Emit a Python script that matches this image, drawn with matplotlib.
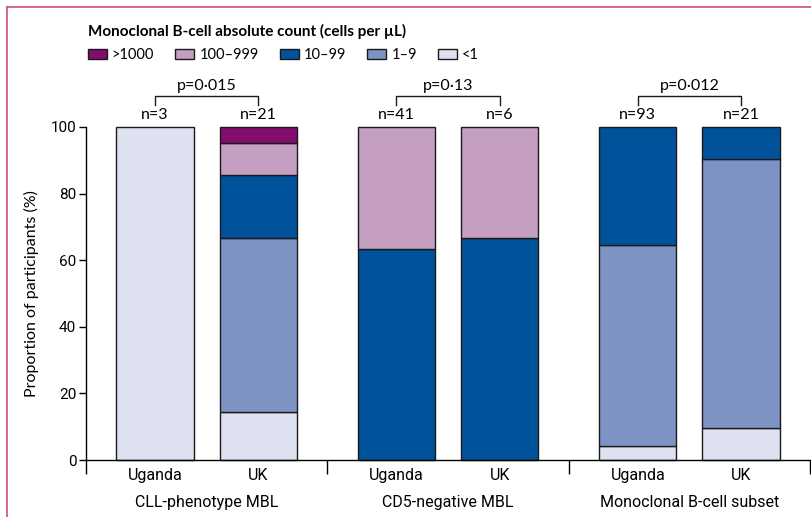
import matplotlib
matplotlib.use("Agg")
import matplotlib.pyplot as plt
from matplotlib.patches import Patch
from matplotlib.lines import Line2D

# data (percent of participants)
groups = ["CLL-phenotype MBL", "CD5-negative MBL", "Monoclonal B-cell subset"]
countries = ["Uganda", "UK"]
n_values = [3, 21, 41, 6, 93, 21]
p_labels = ["p=0\u00b7015", "p=0\u00b713", "p=0\u00b7012"]

categories = [">1000", "100\u2013999", "10\u201399", "1\u20139", "<1"]
pct_lt1 = [100.0, 14.3, 0.0, 0.0, 4.3, 9.5]
pct_1_9 = [0.0, 52.4, 0.0, 0.0, 60.2, 81.0]
pct_10_99 = [0.0, 19.0, 63.4, 66.7, 35.5, 9.5]
pct_100_999 = [0.0, 9.5, 36.6, 33.3, 0.0, 0.0]
pct_gt1000 = [0.0, 4.8, 0.0, 0.0, 0.0, 0.0]

colors = {
    ">1000": "#820d6d",
    "100\u2013999": "#c59fc1",
    "10\u201399": "#00529b",
    "1\u20139": "#7c93c4",
    "<1": "#dee1ef",
}

plt.rcParams["font.family"] = ["Roboto", "DejaVu Sans"]
text_font = ["Lato", "DejaVu Sans"]

fig = plt.figure(figsize=(8.12, 5.17), dpi=100)
ax = fig.add_axes([86 / 812, 57 / 517, 724 / 812, 333 / 517])

# bar positions: one unit per group, two bars per group
offset = 0.2137
width = 0.32
xpos = []
for g in range(len(groups)):
    xpos += [g + 0.5 - offset, g + 0.5 + offset]

stack = [("<1", pct_lt1), ("1\u20139", pct_1_9), ("10\u201399", pct_10_99),
         ("100\u2013999", pct_100_999), (">1000", pct_gt1000)]
bottoms = [0.0] * len(xpos)
for name, vals in stack:
    for i, v in enumerate(vals):
        if v <= 0:
            continue
        ax.bar(xpos[i], v, width, bottom=bottoms[i], color=colors[name],
               edgecolor="#1a1a1a", linewidth=1.0, clip_on=False, zorder=2)
        bottoms[i] += v

ax.set_xlim(0, 3)
ax.set_ylim(0, 100)
ax.set_yticks([0, 20, 40, 60, 80, 100])
ax.tick_params(axis="y", length=5, width=1, labelsize=11, pad=2)
ax.set_ylabel("Proportion of participants (%)", fontsize=11.5,
              family=text_font, labelpad=8)

ax.set_xticks(xpos)
ax.set_xticklabels(countries * 3, fontsize=11.5)
ax.tick_params(axis="x", which="major", length=0, pad=6)
ax.set_xticks([0, 1, 2, 3], minor=True)
ax.tick_params(axis="x", which="minor", length=10, width=1)

for g, name in enumerate(groups):
    ax.text(g + 0.5, -10.5, name, ha="center", va="top", fontsize=11.5,
            clip_on=False)

for s in ["top", "right"]:
    ax.spines[s].set_visible(False)
for s in ["left", "bottom"]:
    ax.spines[s].set_linewidth(1)

# n labels and p-value brackets
for i, n in enumerate(n_values):
    ax.text(xpos[i], 101.5, f"n={n}", ha="center", va="bottom", fontsize=11.5,
            family=text_font, clip_on=False)
for g, p in enumerate(p_labels):
    x1, x2 = xpos[2 * g], xpos[2 * g + 1]
    ax.plot([x1, x1, x2, x2], [106.6, 109.3, 109.3, 106.6], color="#1a1a1a",
            linewidth=1, clip_on=False)
    ax.text((x1 + x2) / 2, 110.2, p, ha="center", va="bottom", fontsize=11.5,
            family=text_font, clip_on=False)

handles = [Patch(facecolor=colors[c], edgecolor="#1a1a1a", linewidth=1)
           for c in categories]
leg = fig.legend(handles, categories, ncol=5, loc="upper left",
                 bbox_to_anchor=(76 / 812, 1 - 12 / 517), frameon=False,
                 title="Monoclonal B-cell absolute count (cells per \u00b5L)",
                 alignment="left", handlelength=1.3, handleheight=0.7,
                 handletextpad=0.35, columnspacing=1.45, borderpad=0.3,
                 labelspacing=0.65,
                 prop={"family": text_font, "size": 10.5},
                 title_fontproperties={"family": text_font,
                                       "size": 11, "weight": "bold"})

# journal-style border on the left and top
border = "#c8507a"
fig.add_artist(Line2D([7 / 812, 7 / 812], [0, 1 - 7 / 517], color=border,
                      linewidth=1.2, transform=fig.transFigure))
fig.add_artist(Line2D([7 / 812, 1], [1 - 7 / 517, 1 - 7 / 517], color=border,
                      linewidth=1.2, transform=fig.transFigure))

fig.savefig("out.png", dpi=100)
